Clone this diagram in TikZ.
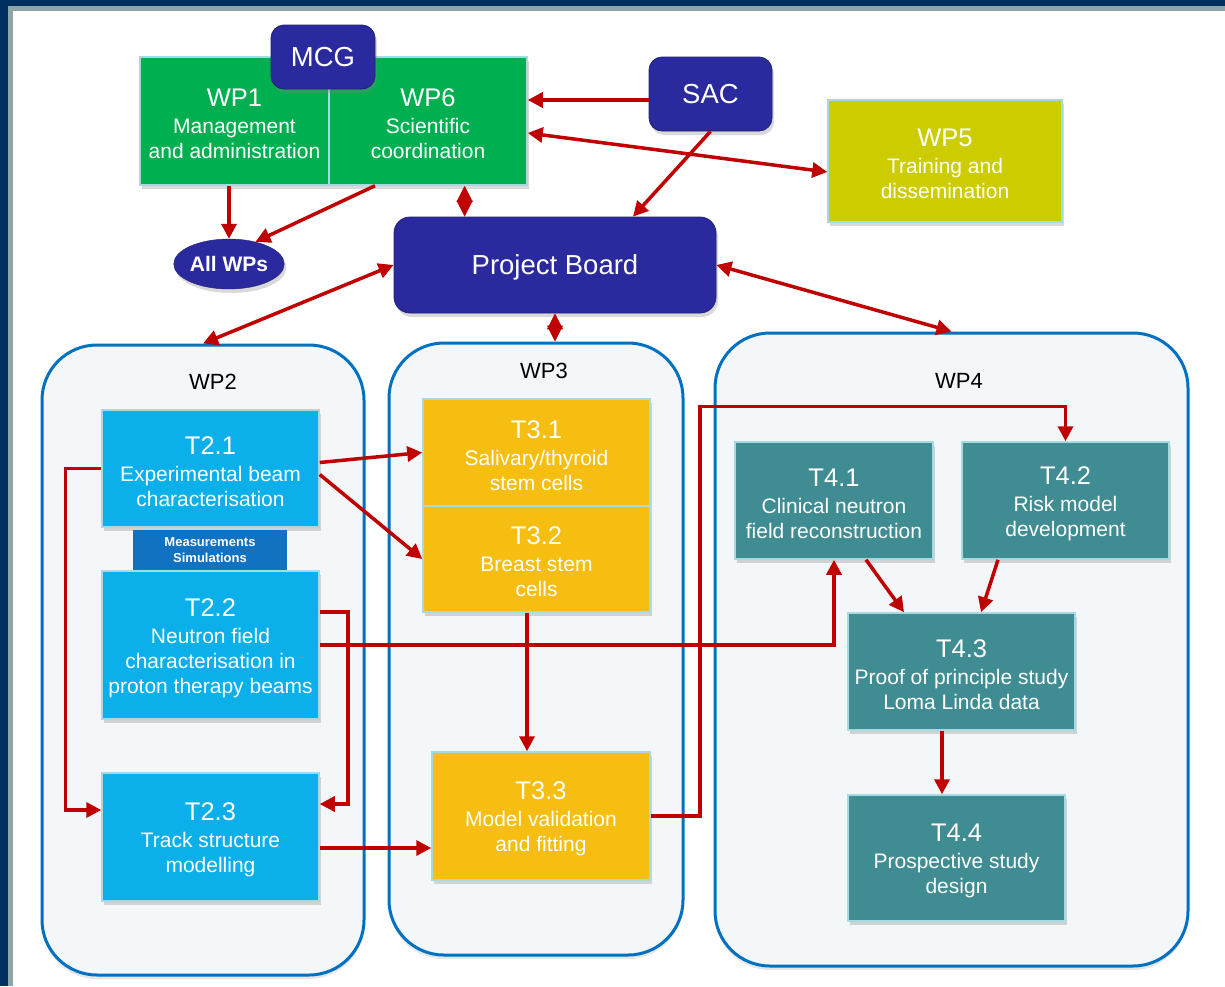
\documentclass[tikz,border=0pt]{standalone}
\usepackage{fontspec}
\setmainfont{Liberation Sans}
\usepackage{tikz}
\usetikzlibrary{
	calc,
	arrows.meta,
	shapes,
	shapes.geometric,
	shadows,
	positioning
	}
\definecolor{rouge}{HTML}{C00000}
\definecolor{marine}{HTML}{00305F}
\definecolor{grisbord}{HTML}{8FA5A8}
\definecolor{vert}{HTML}{00B050}
\definecolor{bleufonce}{HTML}{2A2A9E}
\definecolor{jaunevert}{HTML}{CCCC00}
\definecolor{ciel}{HTML}{0BB0EA}
\definecolor{bleumoyen}{HTML}{1272C2}
\definecolor{orange}{HTML}{F6BE10}
\definecolor{sarcelle}{HTML}{3F8C92}
\definecolor{bleuwp}{HTML}{0070C0}
\definecolor{fondwp}{HTML}{F4F7F9}
\definecolor{bordclair}{HTML}{A8D8E0}
\tikzstyle{ombre}=[drop shadow={shadow xshift=2pt, shadow yshift=-4pt, opacity=.3}]
\tikzstyle{noeud-std}=[rectangle, draw=bordclair, line width=1.5pt, text=white, align=center, inner sep=3pt, font={\fontsize{21}{25}\selectfont}, ombre]
\tikzstyle{noeud-bleu}=[rectangle, rounded corners=13pt, fill=bleufonce, draw=bleufonce!75!black, line width=0.8pt, text=white, text depth=0pt, font={\fontsize{27.5}{32}\selectfont}, ombre]
\tikzstyle{cadre-wp}=[draw=bleuwp, line width=3pt, fill=fondwp, rounded corners=55pt, drop shadow={shadow xshift=0pt, shadow yshift=-4pt, opacity=.2}]
\tikzstyle{etiquette-wp}=[font={\fontsize{22}{26}\selectfont}, text=black]
\tikzstyle{fleche}=[draw=rouge, line width=3.5pt, -{Triangle[length=15pt,width=15pt]}]
\tikzstyle{double-fleche}=[draw=rouge, line width=3.5pt, {Triangle[length=15pt,width=15pt]}-{Triangle[length=15pt,width=15pt]}]
\tikzstyle{losange}=[draw=rouge, line width=1pt, {Triangle[length=16pt,width=16pt]}-{Triangle[length=16pt,width=16pt]}]
\newcommand{\titrewp}[1]{\rule{0pt}{24pt}{\fontsize{25.5}{29}\selectfont #1}}

\begin{document}
\begin{tikzpicture}[x=1pt, y=-1pt]
            \useasboundingbox (0,0) rectangle (1225,986);
            % cadre de la diapositive
            \fill[grisbord] (0,0) rectangle (1225,11);
            \fill[grisbord] (0,0) rectangle (13,986);
            \fill[marine] (0,0) rectangle (1225,6);
            \fill[marine] (0,0) rectangle (8,986);
            %
            \node[cadre-wp, minimum width=322pt, minimum height=630pt] (wp2) at (203,660) {};
            \node[cadre-wp, minimum width=294pt, minimum height=612pt] (wp3) at (536,649) {};
            \node[cadre-wp, minimum width=473pt, minimum height=633pt] (wp4) at (951.5,649.5) {};
            \node[etiquette-wp] (lbl-wp2) at (213,382) {WP2};
            \node[etiquette-wp] (lbl-wp3) at (544,371) {WP3};
            \node[etiquette-wp] (lbl-wp4) at (959,381) {WP4};
            %
            \node[noeud-std, fill=vert, minimum width=189pt, minimum height=128pt] (wp1) at (234.5,121) {\titrewp{WP1}\\[2pt] Management\\ and administration};
            \node[noeud-std, fill=vert, minimum width=198pt, minimum height=128pt] (wp6) at (428,121) {\titrewp{WP6}\\[2pt] Scientific\\ coordination};
            \node[noeud-bleu, minimum width=104pt, minimum height=64pt] (mcg) at (323,57) {MCG};
            \node[noeud-bleu, minimum width=123pt, minimum height=74pt] (sac) at (710.5,94) {SAC};
            \node[noeud-std, fill=jaunevert, minimum width=234pt, minimum height=122pt] (wp5) at (945,161) {\titrewp{WP5}\\[2pt] Training and\\ dissemination};
            \node[ellipse, fill=bleufonce, draw=bleufonce!75!black, text=white, inner sep=0pt, minimum width=104pt, minimum height=50pt, font={\bfseries\fontsize{21}{25}\selectfont}, ombre] (allwps) at (229,264) {All WPs};
            \node[noeud-bleu, rounded corners=16pt, minimum width=322pt, minimum height=96pt] (pb) at (555,265) {Project Board};
            %
            \node[noeud-std, fill=ciel, minimum width=217pt, minimum height=117pt] (t21) at (210.5,468.5) {\titrewp{T2.1}\\[2pt] Experimental beam\\ characterisation};
            \node[rectangle, fill=bleumoyen, text=white, align=center, inner sep=0pt, minimum width=154pt, minimum height=40pt, font={\bfseries\fontsize{13}{16}\selectfont}] (mesures) at (210,550) {Measurements\\ Simulations};
            \node[noeud-std, fill=ciel, minimum width=217pt, minimum height=148pt] (t22) at (210.5,645) {\titrewp{T2.2}\\[2pt] Neutron field\\ characterisation in\\ proton therapy beams};
            \node[noeud-std, fill=ciel, minimum width=217pt, minimum height=128pt] (t23) at (210.5,837) {\titrewp{T2.3}\\[2pt] Track structure\\ modelling};
            %
            \node[noeud-std, fill=orange, minimum width=227pt, minimum height=107pt] (t31) at (536.5,452.5) {\titrewp{T3.1}\\[2pt] Salivary/thyroid\\ stem cells};
            \node[noeud-std, fill=orange, minimum width=227pt, minimum height=106pt] (t32) at (536.5,559) {\titrewp{T3.2}\\[2pt] Breast stem\\ cells};
            \node[noeud-std, fill=orange, minimum width=218pt, minimum height=128pt] (t33) at (541,816) {\titrewp{T3.3}\\[2pt] Model validation\\ and fitting};
            %
            \node[noeud-std, fill=sarcelle, minimum width=198pt, minimum height=117pt] (t41) at (834,500.5) {\titrewp{T4.1}\\[2pt] Clinical neutron\\ field reconstruction};
            \node[noeud-std, fill=sarcelle, minimum width=207pt, minimum height=117pt] (t42) at (1065.5,500.5) {\titrewp{T4.2}\\[2pt] Risk model\\ development};
            \node[noeud-std, fill=sarcelle, minimum width=227pt, minimum height=117pt] (t43) at (961.5,671.5) {\titrewp{T4.3}\\[2pt] Proof of principle study\\ Loma Linda data};
            \node[noeud-std, fill=sarcelle, minimum width=217pt, minimum height=126pt] (t44) at (956.5,858) {\titrewp{T4.4}\\[2pt] Prospective study\\ design};
            %
            \draw[fleche] ([yshift=-6pt]sac.west) -- ([yshift=-6pt]sac.west -| wp6.east);
            \draw[double-fleche] ([yshift=-12pt]wp6.east) -- ([yshift=-11pt]wp5.west);
            \draw[fleche] (sac.south) -- ([xshift=78pt]pb.north);
            \draw[fleche] (wp1.south -| allwps.north) -- (allwps.north);
            \draw[fleche] ([xshift=-53pt]wp6.south) -- (allwps.40);
            \draw[losange] ($(pb.north west)!0.22!(pb.north east)$) coordinate (d1) -- (d1 |- wp6.south);
            \draw[losange] (pb.south) -- (pb.south |- wp3.north);
            \draw[double-fleche] (pb.west) -- (wp2.north);
            \draw[double-fleche] (pb.east) -- (wp4.north);
            %
            \draw[fleche] ([yshift=6pt]t21.east) -- (t31.west);
            \draw[fleche] ([yshift=-6pt]t21.east) -- (t32.west);
            \draw[fleche] (t21.west) -- ++(-36,0) |- ([yshift=27pt]t23.west);
            \draw[fleche] ([yshift=33pt]t22.east) -- ++(28,0) |- ([yshift=33pt]t23.east);
            \draw[fleche] (t22.east) -| (t41.south);
            \draw[fleche] ([yshift=-11pt]t23.east) -- ([yshift=-11pt]t23.east -| t33.west);
            \draw[fleche] ([xshift=-9.5pt]t32.south) -- ([xshift=-9.5pt]t32.south |- t33.north);
            \draw[fleche] (t33.east) -- ++(49,0) |- ($(t42.north)+(0,-35)$) -- (t42.north);
            %
            \draw[fleche] ([xshift=32pt]t41.south) -- ([xshift=-57.5pt]t43.north);
            \draw[fleche] ([xshift=-67.5pt]t42.south) -- ([xshift=19.5pt]t43.north);
            \draw[fleche] ([xshift=-19.5pt]t43.south) -- ([xshift=-19.5pt]t43.south |- t44.north);
\end{tikzpicture}
\end{document}
